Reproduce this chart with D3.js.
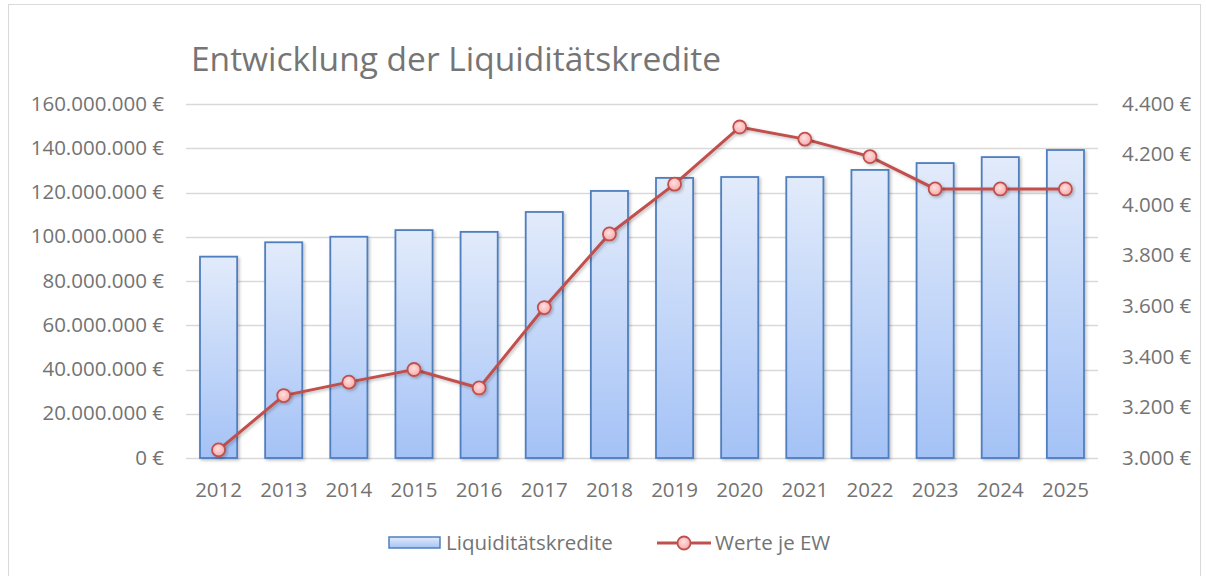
<!DOCTYPE html>
<html>
<head>
<meta charset="utf-8">
<script src="https://cdn.jsdelivr.net/npm/d3@7"></script>
<style>
  body { margin: 0; background: #fff; }
  svg text { font-family: "Open Sans", "Noto Sans", sans-serif; fill: #737373; }
</style>
</head>
<body>
<div id="chart"></div>
<script>
// DATA
const years = ['2012','2013','2014','2015','2016','2017','2018','2019','2020','2021','2022','2023','2024','2025'];
const kredite = [91000000, 97500000, 100000000, 103000000, 102200000, 111200000, 120700000, 126600000, 127000000, 127000000, 130200000, 133300000, 136000000, 139200000];
const werteJeEW = [3032, 3247, 3300, 3350, 3277, 3595, 3886, 4083, 4309, 4261, 4192, 4064, 4064, 4064];
const leftTicks = [0, 20000000, 40000000, 60000000, 80000000, 100000000, 120000000, 140000000, 160000000];
const rightTicks = [3000, 3200, 3400, 3600, 3800, 4000, 4200, 4400];

// DIMENSIONS
const width = 1206;
const height = 576;
const plot = { left: 186, right: 1098, top: 104, bottom: 458 };
const fontSize = '20.5px';

const svg = d3.select('#chart').append('svg')
  .attr('width', width)
  .attr('height', height);

const defs = svg.append('defs');
const barGrad = defs.append('linearGradient')
  .attr('id', 'barGrad').attr('x1', 0).attr('y1', 0).attr('x2', 0).attr('y2', 1);
barGrad.append('stop').attr('offset', '0%').attr('stop-color', '#e2ebfb');
barGrad.append('stop').attr('offset', '100%').attr('stop-color', '#a4c2f6');

const dotGrad = defs.append('radialGradient')
  .attr('id', 'dotGrad').attr('cx', '45%').attr('cy', '40%').attr('r', '60%');
dotGrad.append('stop').attr('offset', '0%').attr('stop-color', '#ffe0e0');
dotGrad.append('stop').attr('offset', '100%').attr('stop-color', '#f7a9a9');

const shadow = defs.append('filter').attr('id', 'shadow')
  .attr('x', '-30%').attr('y', '-30%').attr('width', '160%').attr('height', '160%');
shadow.append('feDropShadow')
  .attr('dx', 1.5).attr('dy', 1.5).attr('stdDeviation', 1.5)
  .attr('flood-color', '#000').attr('flood-opacity', 0.25);

// chart border
svg.append('rect')
  .attr('x', 8.5).attr('y', 4.5)
  .attr('width', 1192).attr('height', 580)
  .attr('fill', 'none')
  .attr('stroke', '#d9d9d9');

// title
svg.append('text')
  .attr('x', 191).attr('y', 71)
  .style('font-size', '33.5px')
  .style('fill', '#757575')
  .text('Entwicklung der Liquiditätskredite');

// SCALES
const x = d3.scaleBand().domain(years).range([plot.left, plot.right]).paddingInner(0.43).paddingOuter(0.215);
const xc = d => x(d) + x.bandwidth() / 2;
const yLeft = d3.scaleLinear().domain([0, 160000000]).range([plot.bottom, plot.top]);
const yRight = d3.scaleLinear().domain([3000, 4400]).range([plot.bottom, plot.top]);

const fmt = d3.formatLocale({ decimal: ',', thousands: '.', grouping: [3], currency: ['', ' €'] });
const euro = v => fmt.format(',.0f')(v) + ' €';

// GRIDLINES
svg.append('g').selectAll('line')
  .data(leftTicks)
  .enter().append('line')
  .attr('x1', plot.left).attr('x2', plot.right)
  .attr('y1', d => Math.round(yLeft(d)) + 0.5)
  .attr('y2', d => Math.round(yLeft(d)) + 0.5)
  .attr('stroke', '#d9d9d9')
  .attr('stroke-width', 1.5);

// AXES
const leftAxis = svg.append('g')
  .attr('transform', `translate(${plot.left - 22}, 0)`)
  .call(d3.axisLeft(yLeft).tickValues(leftTicks).tickFormat(euro).tickSize(0).tickPadding(0));
leftAxis.select('.domain').remove();
leftAxis.selectAll('text').style('font-size', fontSize).attr('dy', '0.3em');

const rightAxis = svg.append('g')
  .attr('transform', `translate(${plot.right + 24}, 0)`)
  .call(d3.axisRight(yRight).tickValues(rightTicks).tickFormat(euro).tickSize(0).tickPadding(0));
rightAxis.select('.domain').remove();
rightAxis.selectAll('text').style('font-size', fontSize).attr('dy', '0.3em');

const bottomAxis = svg.append('g')
  .attr('transform', `translate(0, ${plot.bottom + 24})`)
  .call(d3.axisBottom(x).tickSize(0).tickPadding(0));
bottomAxis.select('.domain').remove();
bottomAxis.selectAll('text').style('font-size', fontSize).attr('dy', '0.71em');

// BARS
svg.append('g').selectAll('rect')
  .data(years)
  .enter().append('rect')
  .attr('x', d => x(d))
  .attr('y', (d, i) => yLeft(kredite[i]))
  .attr('width', x.bandwidth())
  .attr('height', (d, i) => plot.bottom - yLeft(kredite[i]))
  .attr('fill', 'url(#barGrad)')
  .attr('stroke', '#4f7fbf')
  .attr('stroke-width', 1.8)
  .attr('filter', 'url(#shadow)');

// LINE
const line = d3.line()
  .x((d, i) => xc(years[i]))
  .y(d => yRight(d));

svg.append('path')
  .datum(werteJeEW)
  .attr('d', line)
  .attr('fill', 'none')
  .attr('stroke', '#c0504d')
  .attr('stroke-width', 3)
  .attr('filter', 'url(#shadow)');

svg.append('g').selectAll('circle')
  .data(werteJeEW)
  .enter().append('circle')
  .attr('cx', (d, i) => xc(years[i]))
  .attr('cy', d => yRight(d))
  .attr('r', 6.5)
  .attr('fill', 'url(#dotGrad)')
  .attr('stroke', '#c0504d')
  .attr('stroke-width', 1.8)
  .attr('filter', 'url(#shadow)');

// LEGEND
const legend = svg.append('g');
legend.append('rect')
  .attr('x', 389).attr('y', 537)
  .attr('width', 51).attr('height', 11)
  .attr('fill', 'url(#barGrad)')
  .attr('stroke', '#4f7fbf')
  .attr('stroke-width', 1.5);
legend.append('text')
  .attr('x', 446).attr('y', 543).attr('dy', '0.35em')
  .style('font-size', fontSize)
  .text('Liquiditätskredite');

legend.append('line')
  .attr('x1', 657).attr('x2', 711)
  .attr('y1', 543).attr('y2', 543)
  .attr('stroke', '#c0504d').attr('stroke-width', 3);
legend.append('circle')
  .attr('cx', 684).attr('cy', 543).attr('r', 6.5)
  .attr('fill', 'url(#dotGrad)')
  .attr('stroke', '#c0504d').attr('stroke-width', 1.8);
legend.append('text')
  .attr('x', 715).attr('y', 543).attr('dy', '0.35em')
  .style('font-size', fontSize)
  .text('Werte je EW');
</script>
</body>
</html>
